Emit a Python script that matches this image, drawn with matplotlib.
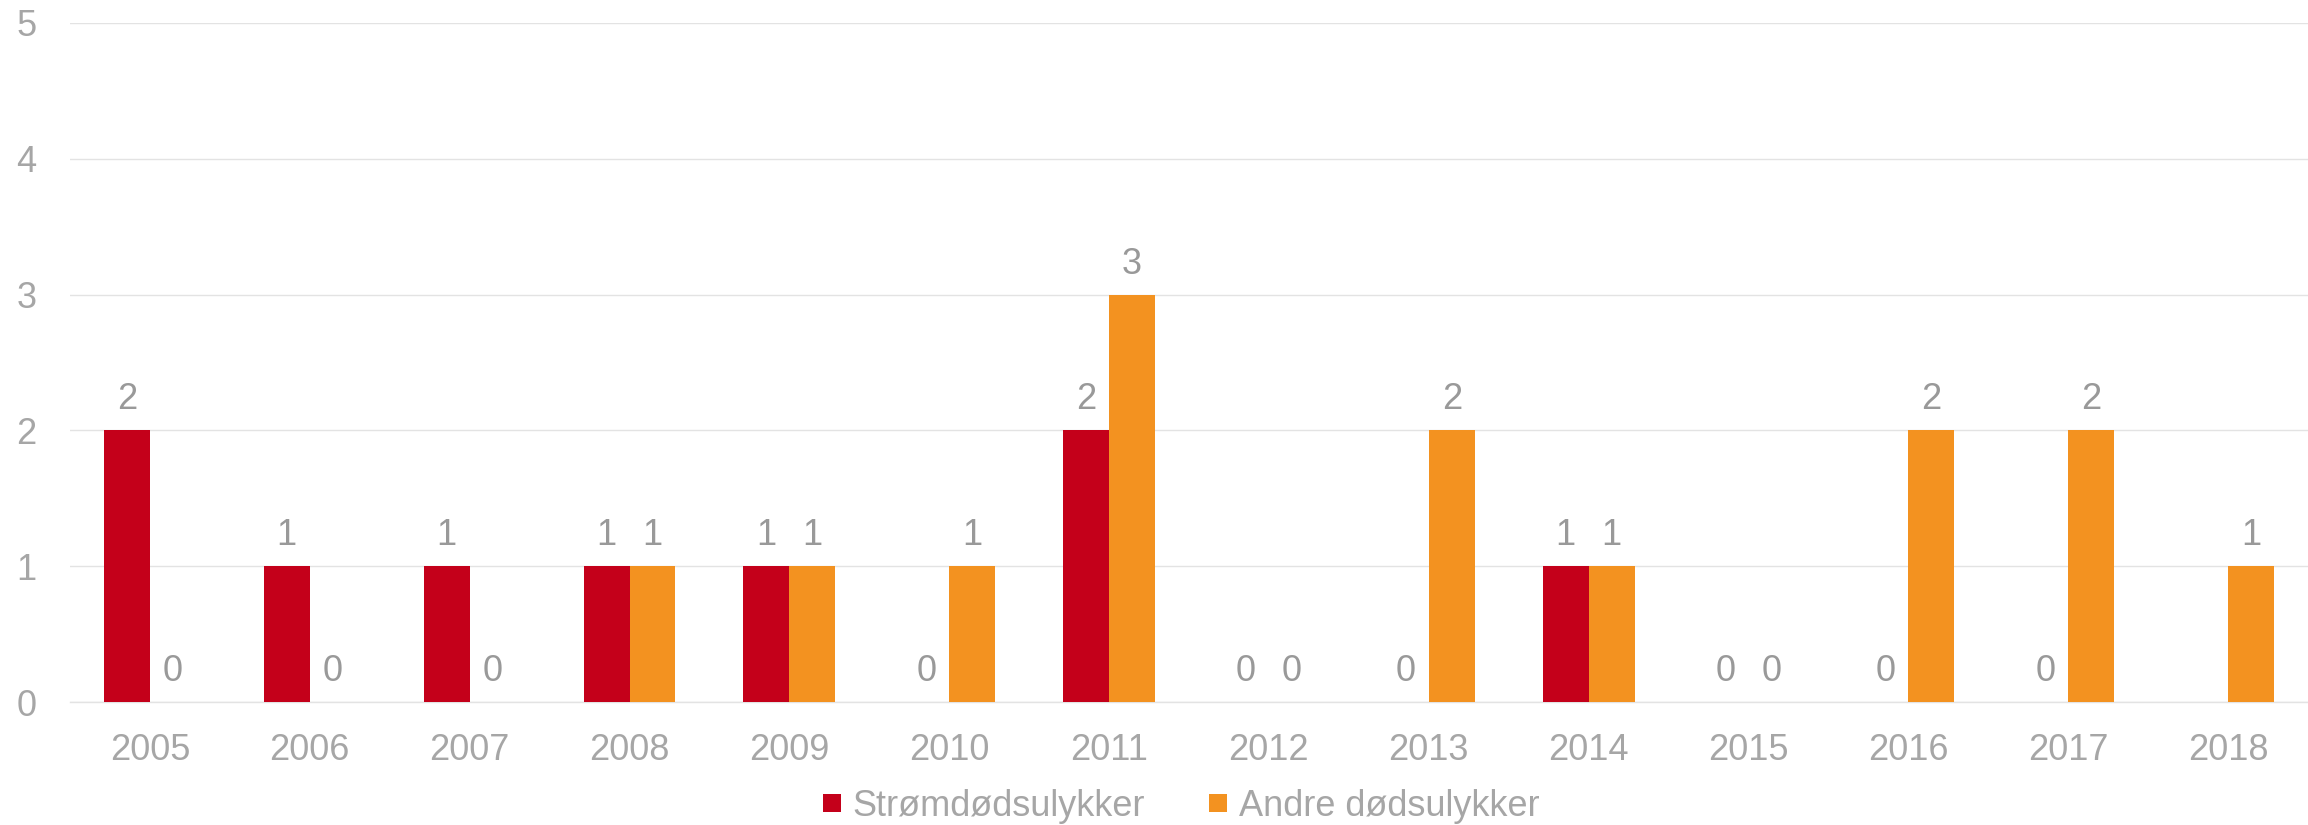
import matplotlib
matplotlib.use("Agg")
import matplotlib.pyplot as plt
from matplotlib.lines import Line2D
import numpy as np

plt.rcParams['font.family'] = ['Liberation Sans', 'DejaVu Sans']

# data
years = ['2005', '2006', '2007', '2008', '2009', '2010', '2011',
         '2012', '2013', '2014', '2015', '2016', '2017', '2018']
strom = [2, 1, 1, 1, 1, 0, 2, 0, 0, 1, 0, 0, 0, np.nan]  # no value for 2018
andre = [0, 0, 0, 1, 1, 1, 3, 0, 2, 1, 0, 2, 2, 1]
series_names = ['Strømdødsulykker', 'Andre dødsulykker']

RED = '#C4001A'
ORANGE = '#F39220'
TXT = '#A6A6A6'
LBL = '#999999'
GRID = '#E3E3E3'
FS = 26

W, H = 2308, 825
fig = plt.figure(figsize=(W / 100, H / 100), dpi=100)
ax = fig.add_axes([70 / W, 123 / H, 2238 / W, 679 / H])

x = np.arange(len(years))
bw = 0.2875
b1 = ax.bar(x - bw / 2, np.nan_to_num(strom), bw, color=RED, zorder=3)
b2 = ax.bar(x + bw / 2, andre, bw, color=ORANGE, zorder=3)

# data labels above bars (skip missing values)
for bars, vals in ((b1, strom), (b2, andre)):
    for rect, v in zip(bars, vals):
        if np.isnan(v):
            continue
        ax.annotate(f'{int(v)}', (rect.get_x() + rect.get_width() / 2, v),
                    xytext=(0, 22), textcoords='offset points',
                    ha='center', va='center', fontsize=FS, color=LBL)

ax.set_xlim(-0.5, len(years) - 0.5)
ax.set_ylim(0, 5)
ax.set_yticks(range(6))
ax.set_xticks(x)
ax.set_xticklabels(years)
ax.tick_params(axis='y', length=0, pad=24, labelsize=FS, labelcolor=TXT)
ax.tick_params(axis='x', length=0, pad=22, labelsize=FS, labelcolor=TXT)

ax.grid(axis='y', color=GRID, linewidth=1.0, zorder=0)
for s in ('top', 'right', 'left'):
    ax.spines[s].set_visible(False)
ax.spines['bottom'].set_color(GRID)
ax.spines['bottom'].set_linewidth(1.0)

handles = [Line2D([], [], marker='s', linestyle='none', markersize=13.5,
                  markerfacecolor=c, markeredgewidth=0)
           for c in (RED, ORANGE)]
leg = fig.legend(handles, series_names, loc='center',
                 bbox_to_anchor=(1181 / W, 1 - 806 / H), ncol=2, frameon=False,
                 fontsize=FS, handlelength=0.55, handletextpad=0.3,
                 columnspacing=1.75, borderpad=0, borderaxespad=0)
for t in leg.get_texts():
    t.set_color(TXT)

fig.savefig('out.png', dpi=100, facecolor='white')
